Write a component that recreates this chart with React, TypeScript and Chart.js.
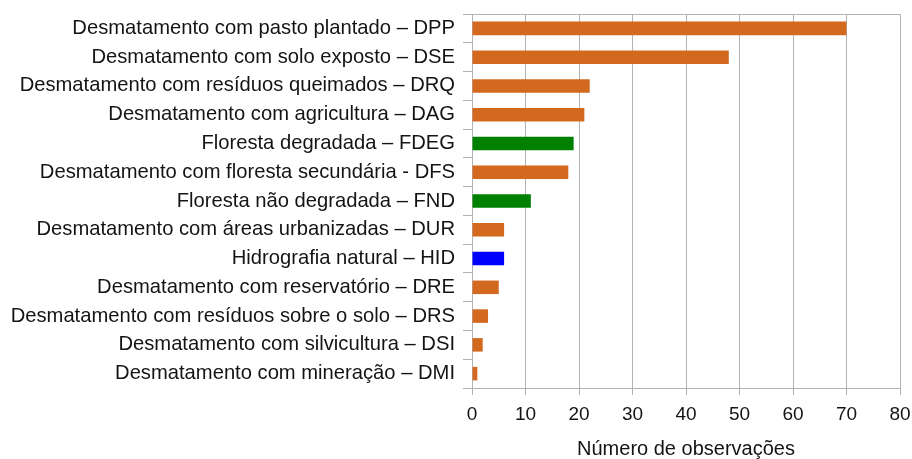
import React, { useEffect, useRef } from "react";
import { Chart, registerables } from "chart.js";

Chart.register(...registerables);

const categories: string[] = [
  "Desmatamento com pasto plantado – DPP",
  "Desmatamento com solo exposto – DSE",
  "Desmatamento com resíduos queimados – DRQ",
  "Desmatamento com agricultura – DAG",
  "Floresta degradada – FDEG",
  "Desmatamento com floresta secundária - DFS",
  "Floresta não degradada – FND",
  "Desmatamento com áreas urbanizadas – DUR",
  "Hidrografia natural – HID",
  "Desmatamento com reservatório – DRE",
  "Desmatamento com resíduos sobre o solo – DRS",
  "Desmatamento com silvicultura – DSI",
  "Desmatamento com mineração – DMI",
];

const observations: number[] = [70, 48, 22, 21, 19, 18, 11, 6, 6, 5, 3, 2, 1];

const groups: string[] = ["D", "D", "D", "D", "F", "D", "F", "D", "H", "D", "D", "D", "D"];

const xTicks: number[] = [0, 10, 20, 30, 40, 50, 60, 70, 80];

const xTitle = "Número de observações";

const groupColors: Record<string, string> = {
  D: "#D2691E",
  F: "#008000",
  H: "#0000FF",
};

const GRID = "#b3b3b3";
const TEXT = "#141414";
const FONT = "'Liberation Sans', Arial, sans-serif";

export default function App() {
  const ref = useRef<HTMLCanvasElement | null>(null);

  useEffect(() => {
    document.body.style.margin = "0";
    const canvas = ref.current;
    if (!canvas) return;

    const topBorder = {
      id: "topBorder",
      afterDraw(chart: any) {
        const { ctx, chartArea } = chart;
        ctx.save();
        ctx.strokeStyle = GRID;
        ctx.lineWidth = 1;
        ctx.beginPath();
        ctx.moveTo(chartArea.left, chartArea.top + 0.5);
        ctx.lineTo(chartArea.right, chartArea.top + 0.5);
        ctx.stroke();
        ctx.restore();
      },
    };

    const chart = new Chart(canvas, {
      type: "bar",
      data: {
        labels: categories,
        datasets: [
          {
            data: observations,
            backgroundColor: groups.map((g) => groupColors[g]),
            borderWidth: 0,
            barPercentage: 0.47,
            categoryPercentage: 1,
          },
        ],
      },
      plugins: [topBorder],
      options: {
        indexAxis: "y",
        animation: false,
        responsive: false,
        maintainAspectRatio: false,
        layout: { padding: { top: 14, right: 12, left: 0, bottom: 0 } },
        plugins: {
          legend: { display: false },
          tooltip: { enabled: false },
        },
        scales: {
          x: {
            type: "linear",
            min: xTicks[0],
            max: xTicks[xTicks.length - 1],
            afterBuildTicks: (scale: any) => {
              scale.ticks = xTicks.map((v) => ({ value: v }));
            },
            afterFit: (scale: any) => {
              scale.height = 71;
              scale.paddingLeft = 0;
              scale.paddingRight = 0;
            },
            grid: {
              color: GRID,
              lineWidth: 1,
              drawTicks: true,
              tickLength: 7,
            },
            border: { display: true, color: GRID },
            ticks: {
              color: TEXT,
              font: { family: FONT, size: 19 },
              padding: 8,
            },
            title: {
              display: true,
              text: xTitle,
              color: TEXT,
              font: { family: FONT, size: 20, lineHeight: 1.0 },
              padding: { top: 4, bottom: 0 },
            },
          },
          y: {
            type: "category",
            afterFit: (scale: any) => {
              scale.width = 472;
              scale.paddingTop = 0;
              scale.paddingBottom = 0;
            },
            grid: {
              display: true,
              drawOnChartArea: false,
              drawTicks: true,
              tickLength: 9,
              color: GRID,
              offset: true,
            },
            border: { display: true, color: GRID },
            ticks: {
              color: TEXT,
              font: { family: FONT, size: 20.2 },
              padding: 8,
              autoSkip: false,
            },
          },
        },
      },
    } as any);

    return () => chart.destroy();
  }, []);

  return (
    <div style={{ position: "fixed", left: 0, top: 0, width: 912, height: 459 }}>
      <canvas ref={ref} width={912} height={459} style={{ width: 912, height: 459 }} />
    </div>
  );
}
